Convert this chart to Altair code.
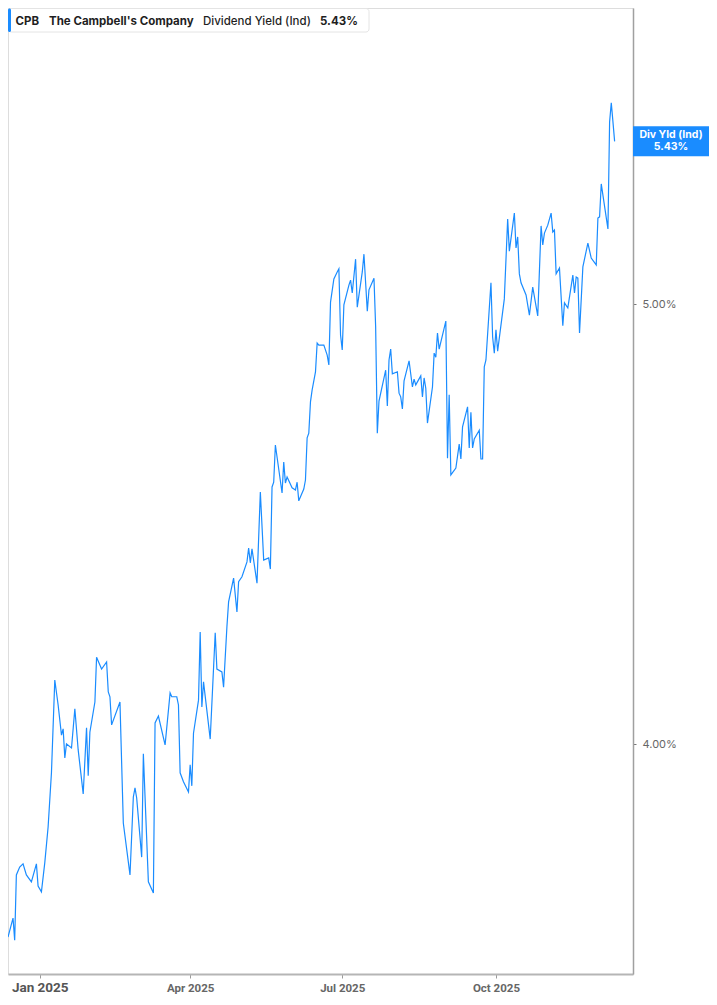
import altair as alt
import pandas as pd

# ---- data (CPB dividend yield, %) ----
dates = [
    "2024-12-13", "2024-12-16", "2024-12-17", "2024-12-18", "2024-12-20", "2024-12-22",
    "2024-12-24", "2024-12-27", "2024-12-30", "2024-12-31", "2025-01-02", "2025-01-04",
    "2025-01-06", "2025-01-08", "2025-01-10", "2025-01-12", "2025-01-14", "2025-01-15",
    "2025-01-16", "2025-01-17", "2025-01-20", "2025-01-22", "2025-01-24", "2025-01-27",
    "2025-01-29", "2025-01-30", "2025-01-31", "2025-02-03", "2025-02-04", "2025-02-07",
    "2025-02-10", "2025-02-11", "2025-02-12", "2025-02-13", "2025-02-18", "2025-02-20",
    "2025-02-24", "2025-02-26", "2025-02-27", "2025-02-28", "2025-03-03", "2025-03-04",
    "2025-03-07", "2025-03-10", "2025-03-11", "2025-03-13", "2025-03-17", "2025-03-20",
    "2025-03-21", "2025-03-24", "2025-03-25", "2025-03-26", "2025-03-28", "2025-03-31",
    "2025-04-01", "2025-04-02", "2025-04-03", "2025-04-06", "2025-04-07", "2025-04-08",
    "2025-04-09", "2025-04-13", "2025-04-16", "2025-04-17", "2025-04-20", "2025-04-21",
    "2025-04-23", "2025-04-24", "2025-04-27", "2025-04-29", "2025-04-30", "2025-05-02",
    "2025-05-05", "2025-05-06", "2025-05-07", "2025-05-08", "2025-05-11", "2025-05-13",
    "2025-05-15", "2025-05-18", "2025-05-19", "2025-05-20", "2025-05-21", "2025-05-22",
    "2025-05-26", "2025-05-27", "2025-05-28", "2025-05-29", "2025-06-01", "2025-06-03",
    "2025-06-04", "2025-06-05", "2025-06-08", "2025-06-09", "2025-06-10", "2025-06-11",
    "2025-06-12", "2025-06-13", "2025-06-15", "2025-06-16", "2025-06-17", "2025-06-20",
    "2025-06-22", "2025-06-23", "2025-06-24", "2025-06-26", "2025-06-28", "2025-06-29",
    "2025-06-30", "2025-07-01", "2025-07-02", "2025-07-05", "2025-07-06", "2025-07-07",
    "2025-07-09", "2025-07-10", "2025-07-13", "2025-07-14", "2025-07-16", "2025-07-17",
    "2025-07-20", "2025-07-21", "2025-07-22", "2025-07-23", "2025-07-27", "2025-07-28",
    "2025-07-29", "2025-07-30", "2025-07-31", "2025-08-03", "2025-08-04", "2025-08-05",
    "2025-08-06", "2025-08-07", "2025-08-10", "2025-08-12", "2025-08-13", "2025-08-14",
    "2025-08-17", "2025-08-18", "2025-08-19", "2025-08-20", "2025-08-21", "2025-08-24",
    "2025-08-25", "2025-08-26", "2025-08-27", "2025-08-28", "2025-09-01", "2025-09-02",
    "2025-09-03", "2025-09-04", "2025-09-07", "2025-09-09", "2025-09-10", "2025-09-11",
    "2025-09-14", "2025-09-15", "2025-09-16", "2025-09-17", "2025-09-18", "2025-09-21",
    "2025-09-22", "2025-09-23", "2025-09-24", "2025-09-25", "2025-09-28", "2025-09-29",
    "2025-09-30", "2025-10-01", "2025-10-02", "2025-10-06", "2025-10-08", "2025-10-09",
    "2025-10-12", "2025-10-13", "2025-10-14", "2025-10-15", "2025-10-16", "2025-10-19",
    "2025-10-21", "2025-10-23", "2025-10-26", "2025-10-28", "2025-10-29", "2025-10-30",
    "2025-11-01", "2025-11-03", "2025-11-04", "2025-11-05", "2025-11-06", "2025-11-08",
    "2025-11-10", "2025-11-11", "2025-11-13", "2025-11-16", "2025-11-17", "2025-11-18",
    "2025-11-19", "2025-11-20", "2025-11-22", "2025-11-25", "2025-11-27", "2025-11-30",
    "2025-12-01", "2025-12-02", "2025-12-03", "2025-12-07", "2025-12-08", "2025-12-09",
    "2025-12-10", "2025-12-11",
]
yields = [
    3.627, 3.662, 3.621, 3.743, 3.758, 3.764,
    3.743, 3.730, 3.764, 3.722, 3.711, 3.766,
    3.835, 3.942, 4.132, 4.080, 4.018, 4.031,
    3.972, 4.000, 3.992, 4.072, 3.988, 3.900,
    4.033, 3.936, 4.024, 4.086, 4.180, 4.155,
    4.170, 4.107, 4.097, 4.039, 4.086, 3.843,
    3.743, 3.894, 3.912, 3.892, 3.777, 3.980,
    3.730, 3.709, 4.043, 4.057, 3.998, 4.105,
    4.097, 4.097, 4.080, 3.942, 3.924, 3.904,
    3.958, 3.916, 4.022, 4.090, 4.234, 4.076,
    4.128, 4.010, 4.232, 4.155, 4.149, 4.117,
    4.245, 4.299, 4.351, 4.277, 4.343, 4.354,
    4.387, 4.418, 4.385, 4.416, 4.340, 4.545,
    4.391, 4.396, 4.371, 4.557, 4.568, 4.655,
    4.543, 4.615, 4.566, 4.580, 4.555, 4.550,
    4.568, 4.525, 4.552, 4.573, 4.672, 4.683,
    4.758, 4.787, 4.831, 4.902, 4.897, 4.897,
    4.872, 4.848, 5.005, 5.064, 5.082, 5.090,
    4.922, 4.885, 4.998, 5.048, 5.061, 5.028,
    5.115, 4.992, 5.082, 5.128, 4.982, 5.036,
    5.066, 4.942, 4.683, 4.760, 4.835, 4.748,
    4.860, 4.887, 4.826, 4.831, 4.779, 4.770,
    4.741, 4.809, 4.858, 4.794, 4.813, 4.799,
    4.821, 4.770, 4.816, 4.791, 4.707, 4.794,
    4.877, 4.867, 4.927, 4.887, 4.957, 4.624,
    4.775, 4.585, 4.601, 4.657, 4.622, 4.698,
    4.746, 4.648, 4.733, 4.648, 4.669, 4.690,
    4.622, 4.622, 4.843, 4.860, 5.054, 4.917,
    4.877, 4.935, 4.882, 5.013, 5.220, 5.136,
    5.236, 5.144, 5.173, 5.077, 5.054, 5.023,
    4.972, 5.043, 4.970, 5.202, 5.152, 5.183,
    5.204, 5.236, 5.186, 5.191, 5.077, 5.092,
    4.945, 5.003, 4.990, 5.074, 5.028, 5.069,
    5.066, 4.927, 5.095, 5.157, 5.118, 5.100,
    5.223, 5.226, 5.314, 5.194, 5.484, 5.537,
    5.484, 5.430,
]
tick_months = [1, 4, 7, 10]
y_ticks = [4, 5]
last_value = 5.43
ticker = "CPB"
company = "The Campbell's Company"
metric = "Dividend Yield (Ind)"
last_label = "5.43%"
tag_line1 = "Div Yld (Ind)"

BLUE = "#1a8cff"
W, H = 625, 966
TAG_W = 76

df = pd.DataFrame({"date": dates, "value": yields})
one = pd.DataFrame({"k": [0]})

x_scale = alt.Scale(
    type="utc",
    domain=[alt.DateTime(year=2024, month=12, date=13, utc=True),
            alt.DateTime(year=2025, month=12, date=22, utc=True)],
)
y_scale = alt.Scale(type="log", domain=[3.5596, 5.8099], nice=False)

x_axis = alt.Axis(
    values=[alt.DateTime(year=2025, month=m, date=1, utc=True) for m in tick_months],
    labelExpr="utcFormat(datum.value, '%b %Y')",
    title=None, grid=False,
    domainColor="#b5b5b5", domainWidth=2,
    tickColor="#9a9a9a", tickSize=4, tickWidth=1,
    labelPadding=13, labelBaseline="alphabetic",
    labelFont="Roboto", labelFontWeight="bold",
    labelFontSize={"condition": {"test": "utcmonth(datum.value) === 0", "value": 13.5}, "value": 11.5},
    labelColor={"condition": {"test": "utcmonth(datum.value) === 0", "value": "#555555"}, "value": "#666666"},
    labelAlign="center",
)
y_axis = alt.Axis(
    orient="right", values=y_ticks,
    labelExpr="format(datum.value, '.2f') + '%'",
    title=None, grid=False,
    domainColor="#a0a0a0", domainWidth=1.5,
    tickColor="#777777", tickSize=3,
    labelPadding=6, labelFont="Inter", labelFontSize=11, labelColor="#666666",
)

line = alt.Chart(df).mark_line(color=BLUE, strokeWidth=1.2).encode(
    x=alt.X("date:T", scale=x_scale, axis=x_axis),
    y=alt.Y("value:Q", scale=y_scale, axis=y_axis),
)

# right-side value tag
tag_box = alt.Chart(one).mark_rect(color=BLUE, yOffset=-15, y2Offset=15).encode(
    x=alt.value(W), x2=alt.value(W + TAG_W),
    y=alt.datum(last_value, scale=y_scale), y2=alt.datum(last_value),
)
tag_t1 = alt.Chart(one).mark_text(
    color="white", font="Inter", fontWeight="bold", fontSize=10.5,
    align="center", baseline="middle", dy=-6,
).encode(x=alt.value(W + TAG_W / 2), y=alt.datum(last_value), text=alt.value(tag_line1))
tag_t2 = alt.Chart(one).mark_text(
    color="white", font="Inter", fontWeight="bold", fontSize=10.5,
    align="center", baseline="middle", dy=6,
).encode(x=alt.value(W + TAG_W / 2), y=alt.datum(last_value), text=alt.value(last_label))

# top-left legend box
leg_box = alt.Chart(one).mark_rect(
    fill="white", stroke="#e4e4e4", strokeWidth=1, cornerRadius=3,
).encode(x=alt.value(0.5), x2=alt.value(361), y=alt.value(0.5), y2=alt.value(24))
leg_bar = alt.Chart(one).mark_rect(color=BLUE, cornerRadius=1.5).encode(
    x=alt.value(0), x2=alt.value(3), y=alt.value(0.5), y2=alt.value(24))

def leg_text(txt, xpos, weight):
    return alt.Chart(one).mark_text(
        font="Inter", fontSize=11.5, fontWeight=weight, color="#1f1f1f",
        align="left", baseline="alphabetic",
    ).encode(x=alt.value(xpos), y=alt.value(16.5), text=alt.value(txt))

chart = alt.layer(
    line, tag_box, tag_t1, tag_t2, leg_box, leg_bar,
    leg_text(ticker, 7.5, "bold"),
    leg_text(company, 41, "bold"),
    leg_text(metric, 195, 500),
    leg_text(last_label, 312, "bold"),
).properties(
    width=W, height=H,
    autosize=alt.AutoSizeParams(type="none"),
    padding={"left": 0, "top": 0, "right": TAG_W, "bottom": 21},
).configure_view(stroke=None).configure(background="white")

chart.save("out.html", embed_options={"renderer": "svg", "actions": False})
